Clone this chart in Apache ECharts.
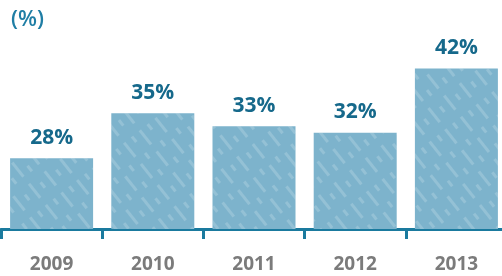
<!DOCTYPE html>
<html lang="en">
<head>
    <meta charset="UTF-8">
    <script type="text/javascript" src="https://cdn.jsdelivr.net/npm/echarts@6/dist/echarts.min.js"></script>
    <style>
        html, body { margin: 0; padding: 0; background: #fff; overflow: hidden; }
    </style>
</head>
<body>
    <!-- 比窗口略宽, 让最后一根柱子贴近右边缘 -->
    <div id="barChart" style="width: 507px;height: 276px;"></div>
</body>

<script>
    // 年份
    var years = ["2009", "2010", "2011", "2012", "2013"];
    // 百分比
    var shares = [28, 35, 33, 32, 42];

    var barChart = echarts.init(document.getElementById("barChart"));

    var option = {
        animation: false,
        title: {
            text: "(%)",
            left: 6,
            top: 4,
            textStyle: {fontFamily: "Open Sans", fontWeight: 600, fontSize: 22, color: "#1f7ea5"}
        },
        grid: {left: 1, right: 0, top: 17, bottom: 47},
        xAxis: {
            type: "category",
            data: years,
            axisLine: {lineStyle: {color: "#1a7a9e", width: 3}},
            axisTick: {show: true, length: 10, lineStyle: {color: "#1a7a9e", width: 3}},
            axisLabel: {
                margin: 26,
                fontFamily: "Open Sans",
                fontWeight: "bold",
                fontSize: 19,
                color: "#7b7b7b"
            }
        },
        yAxis: {
            type: "value",
            min: 17,
            max: 50,
            show: false,
            splitLine: {show: false}
        },
        series: [{
            type: "bar",
            data: shares,
            barWidth: 83,
            itemStyle: {
                color: "#7db3cc",
                decal: {
                    color: "rgba(255,255,255,0.18)",
                    dashArrayX: [[18, 9], [7, 14]],
                    dashArrayY: [3, 7],
                    rotation: 0.9,
                    symbolSize: 1
                }
            },
            label: {
                show: true,
                position: "top",
                distance: 10,
                formatter: "{c}%",
                fontFamily: "Open Sans",
                fontWeight: "bold",
                fontSize: 21,
                color: "#16698b"
            }
        }]
    };
    barChart.setOption(option);
</script>
</html>
